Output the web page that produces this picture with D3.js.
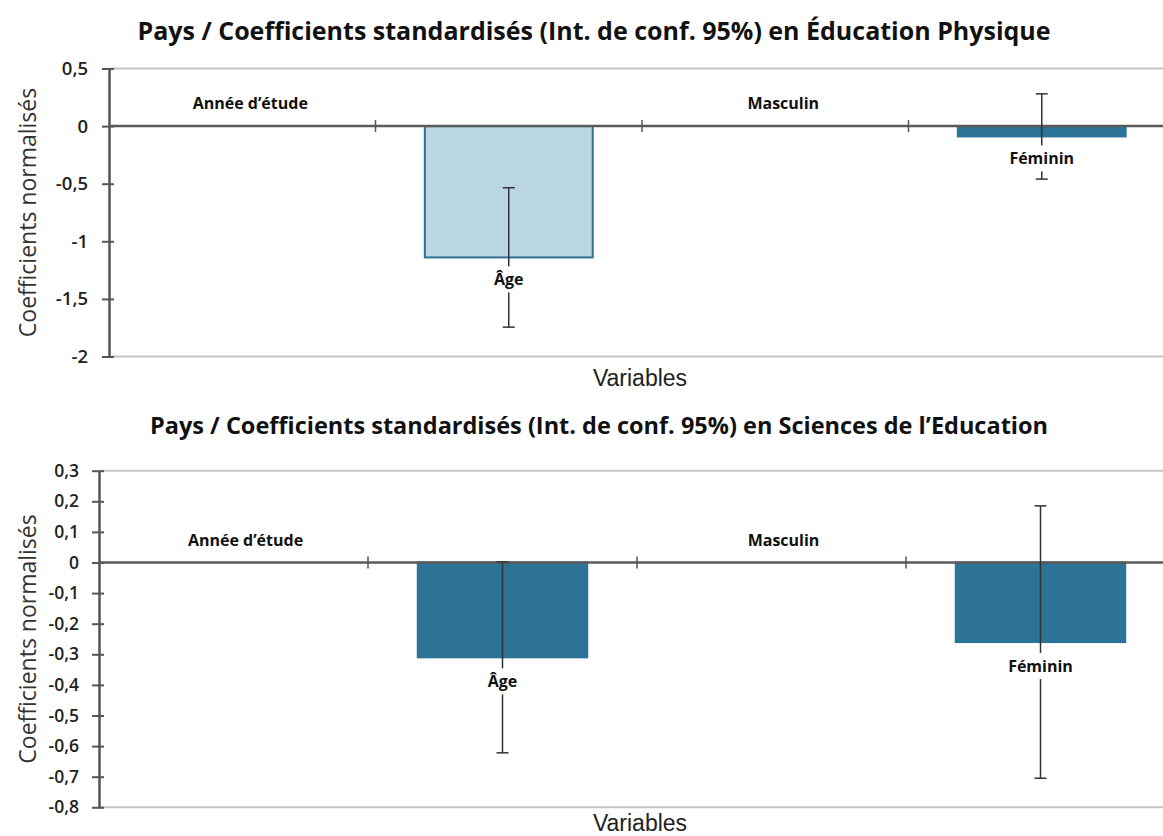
<!DOCTYPE html>
<html>
<head>
<meta charset="utf-8">
<script src="https://cdn.jsdelivr.net/npm/d3@7"></script>
<style>
  html, body { margin: 0; padding: 0; background: #fff; }
  svg { display: block; }
</style>
</head>
<body>
<svg id="chart" width="1163" height="836"></svg>
<script>
// Variables of the regression model, shared by both panels
const categories = ["Année d’étude", "Âge", "Masculin", "Féminin"];

// Éducation Physique: standardised coefficients and 95% CI half-widths
const epValues = [0, -1.14, 0, -0.09];
const epCI = [null, 0.605, null, 0.37];
const epTicks = [0.5, 0, -0.5, -1, -1.5, -2];

// Sciences de l'Education: standardised coefficients and 95% CI half-widths
const sedValues = [0, -0.31, 0, -0.26];
const sedCI = [null, 0.312, null, 0.445];
const sedTicks = [0.3, 0.2, 0.1, 0, -0.1, -0.2, -0.3, -0.4, -0.5, -0.6, -0.7, -0.8];

const titles = [
  "Pays / Coefficients standardisés (Int. de conf. 95%) en Éducation Physique",
  "Pays / Coefficients standardisés (Int. de conf. 95%) en Sciences de l’Education"
];
const yTitle = "Coefficients normalisés";
const xTitle = "Variables";

const locale = d3.formatLocale({ decimal: ",", thousands: " ", grouping: [3], currency: ["", " €"], minus: "-" });
const fmt = locale.format("~g");

const svg = d3.select("#chart");
const FONT = "'Open Sans', 'DejaVu Sans', sans-serif";

function drawPanel(opt) {
  const g = svg.append("g");
  const x = d3.scaleBand().domain(categories).range([opt.left, opt.right]).paddingInner(0).paddingOuter(0);
  const y = d3.scaleLinear().domain(opt.domain).range([opt.bottom, opt.top]);
  const barW = x.bandwidth() * 0.63;

  // Title
  g.append("text")
    .attr("x", opt.titleX).attr("y", opt.titleY)
    .attr("text-anchor", "middle")
    .attr("font-family", FONT).attr("font-weight", 700)
    .attr("font-size", opt.titleSize).attr("fill", "#111")
    .text(opt.title);

  // Frame lines at the top and bottom of the value range
  [opt.domain[1], opt.domain[0]].forEach(v => {
    g.append("line")
      .attr("x1", opt.left).attr("x2", opt.right)
      .attr("y1", y(v)).attr("y2", y(v))
      .attr("stroke", "#c4c4c4").attr("stroke-width", 2);
  });

  // Bars
  g.selectAll("rect.bar")
    .data(categories.map((c, i) => ({ c, v: opt.values[i], i })).filter(d => d.v !== 0))
    .join("rect")
    .attr("class", "bar")
    .attr("x", d => x(d.c) + (x.bandwidth() - barW) / 2)
    .attr("width", barW)
    .attr("y", d => Math.min(y(0), y(d.v)))
    .attr("height", d => Math.abs(y(d.v) - y(0)))
    .attr("fill", d => opt.fills[d.i])
    .attr("stroke", d => opt.strokes[d.i])
    .attr("stroke-width", 2);

  // Value axis
  const yAxis = d3.axisLeft(y).tickValues(opt.ticks).tickFormat(fmt).tickSize(0).tickPadding(opt.tickPad);
  const ya = g.append("g").attr("transform", `translate(${opt.left},0)`).call(yAxis);
  ya.select(".domain").attr("stroke", "#555").attr("stroke-width", 2.5);
  ya.selectAll(".tick text")
    .attr("font-family", FONT).attr("font-size", opt.tickSize).attr("fill", "#222")
    .attr("font-weight", 600);
  ya.selectAll(".tick").append("line")
    .attr("x1", -7).attr("x2", 5).attr("stroke", "#555").attr("stroke-width", 2);

  // Zero line with category separators
  g.append("line")
    .attr("x1", opt.left).attr("x2", opt.right)
    .attr("y1", y(0)).attr("y2", y(0))
    .attr("stroke", "#5a5a5a").attr("stroke-width", 2.5);
  g.selectAll("line.sep")
    .data(categories.slice(1))
    .join("line")
    .attr("class", "sep")
    .attr("x1", d => x(d)).attr("x2", d => x(d))
    .attr("y1", y(0) - 6).attr("y2", y(0) + 6)
    .attr("stroke", "#555").attr("stroke-width", 1.5);

  // Error bars (95% CI)
  const errs = categories.map((c, i) => ({ c, v: opt.values[i], e: opt.ci[i] })).filter(d => d.e != null);
  const eg = g.append("g").attr("stroke", "#333").attr("stroke-width", 1.5);
  errs.forEach(d => {
    const cx = x(d.c) + x.bandwidth() / 2;
    eg.append("line").attr("x1", cx).attr("x2", cx).attr("y1", y(d.v + d.e)).attr("y2", y(d.v - d.e));
    [d.v + d.e, d.v - d.e].forEach(v => {
      eg.append("line").attr("x1", cx - 6).attr("x2", cx + 6).attr("y1", y(v)).attr("y2", y(v));
    });
  });

  // Category labels placed at the outer end of each bar
  categories.forEach((c, i) => {
    const v = opt.values[i];
    const cx = x(c) + x.bandwidth() / 2 + (v === 0 ? opt.zeroShift : 0);
    const cy = v < 0 ? y(v) + opt.labelOffset : y(0) - 23;
    const t = g.append("text")
      .attr("x", cx).attr("y", cy)
      .attr("text-anchor", "middle").attr("dominant-baseline", "central")
      .attr("font-family", FONT).attr("font-weight", 700)
      .attr("font-size", 16).attr("fill", "#111")
      .text(c);
    const b = t.node().getBBox();
    g.insert("rect", () => t.node())
      .attr("x", b.x - 3).attr("y", b.y - 2)
      .attr("width", b.width + 6).attr("height", b.height + 4)
      .attr("fill", "#fff");
  });

  // Axis titles
  g.append("text")
    .attr("transform", `translate(${opt.yTitleX},${(opt.top + opt.bottom) / 2}) rotate(-90)`)
    .attr("text-anchor", "middle").attr("dominant-baseline", "central")
    .attr("font-family", FONT).attr("font-size", 23).attr("fill", "#333")
    .text(yTitle);
  g.append("text")
    .attr("x", 640).attr("y", opt.xTitleY)
    .attr("text-anchor", "middle")
    .attr("font-family", "'Liberation Sans', Arial, sans-serif").attr("font-size", 23).attr("fill", "#222")
    .text(xTitle);
}

drawPanel({
  title: titles[0], titleX: 594, titleY: 40, titleSize: 25,
  left: 109, right: 1175, top: 68.5, bottom: 356.5,
  domain: [-2, 0.5], ticks: epTicks, tickSize: 18.5, tickPad: 21,
  values: epValues, ci: epCI,
  fills: [null, "#b9d6e2", null, "#2d7398"],
  strokes: [null, "#2f6f8f", null, "#2d7398"],
  labelOffset: 22, zeroShift: 8,
  yTitleX: 27, xTitleY: 386
});

drawPanel({
  title: titles[1], titleX: 599, titleY: 434, titleSize: 23.5,
  left: 99, right: 1175, top: 470.7, bottom: 807.3,
  domain: [-0.8, 0.3], ticks: sedTicks, tickSize: 17.5, tickPad: 20,
  values: sedValues, ci: sedCI,
  fills: [null, "#2d7398", null, "#2d7398"],
  strokes: [null, "#2d7398", null, "#2d7398"],
  labelOffset: 24, zeroShift: 12,
  yTitleX: 27, xTitleY: 831
});
</script>
</body>
</html>
